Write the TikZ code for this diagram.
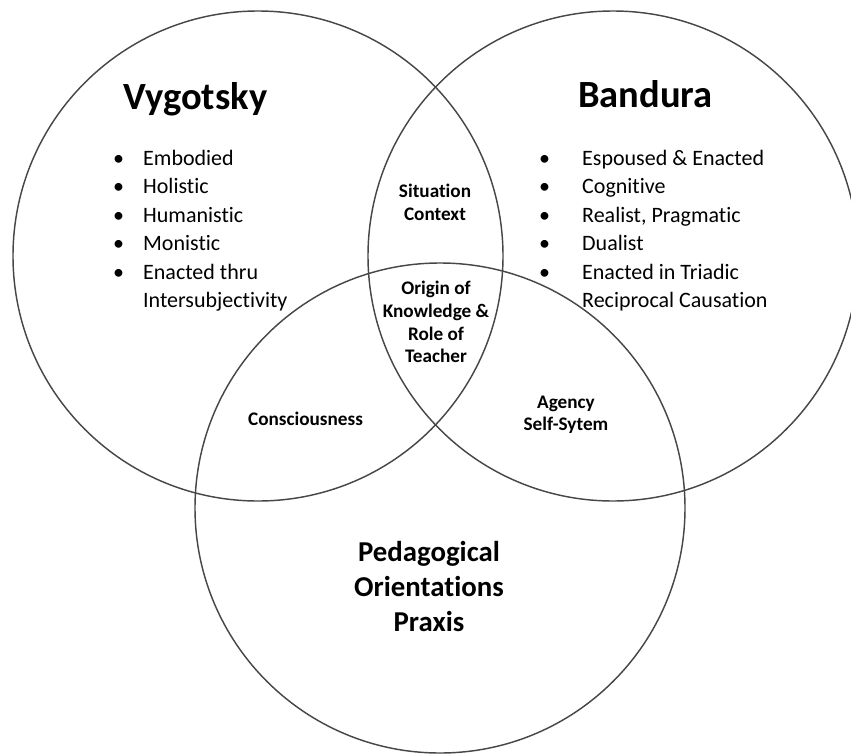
\documentclass[tikz,border=0pt]{standalone}
\usepackage{fontspec}
\setmainfont{Carlito}[Ligatures=NoCommon]
\tikzset{
  venn/.style={shape=circle,draw=black!72,line width=1.45pt,minimum size=490pt,inner sep=0pt},
  title/.style={font=\fontsize{38.5}{46}\selectfont\bfseries,inner sep=0pt,anchor=base west},
  traits/.style={font=\fontsize{22}{28.5}\selectfont,inner sep=0pt,anchor=north west},
  region/.style={font=\fontsize{19.2}{22.7}\selectfont\bfseries,align=center,inner sep=0pt},
  praxis/.style={font=\fontsize{28.8}{35}\selectfont\bfseries,align=center,inner sep=0pt}
}
\newcommand{\bul}[1]{\makebox[#1][l]{\textbullet}}
\begin{document}
\begin{tikzpicture}[x=1pt,y=-1pt]
\useasboundingbox (0,0) rectangle (851,755);
\node(vyg) at (258,256)[venn] {};
\node(ban) at (613,256)[venn] {};
\node(ped) at (440,508)[venn] {};

\node(vygtitle) at (123,109)[title] {Vygotsky};
\node(bantitle) at (578,107)[title] {Bandura};

\node(vyglist) at (113,145)[traits] {\begin{tabular}{@{}l@{}l@{}}
\bul{30pt} & Embodied\\
\bul{30pt} & Holistic\\
\bul{30pt} & Humanistic\\
\bul{30pt} & Monistic\\
\bul{30pt} & Enacted thru\\
 & Intersubjectivity
\end{tabular}};
\node(banlist) at (539,145)[traits] {\begin{tabular}{@{}l@{}l@{}}
\bul{43pt} & Espoused \& Enacted\\
\bul{43pt} & Cognitive\\
\bul{43pt} & Realist, Pragmatic\\
\bul{43pt} & Dualist\\
\bul{43pt} & Enacted in Triadic\\
 & Reciprocal Causation
\end{tabular}};

\node(situation) at (435,202.2)[region] {Situation\\Context};
\node(origin) at (436,322)[region] {Origin of\\Knowledge \&\\Role of\\Teacher};
\node(consc) at (305.5,425)[region,anchor=base] {Consciousness};
\node(agency) at (566,414.7)[region] {Agency\\Self-Sytem};
\node(pedlabel) at (429,586)[praxis] {Pedagogical\\Orientations\\Praxis};
\end{tikzpicture}
\end{document}
